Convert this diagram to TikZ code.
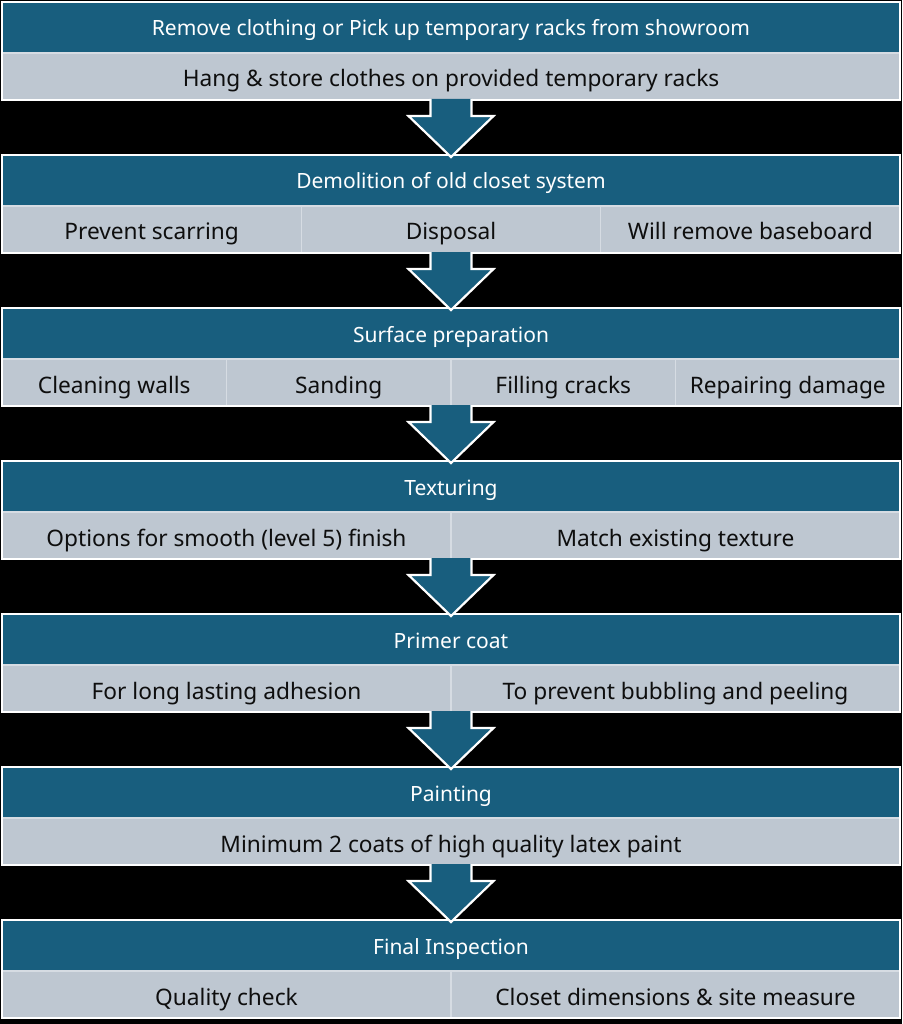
\documentclass[tikz,border=0pt]{standalone}
\usepackage{fontspec}
\setmainfont{Noto Sans}
\usetikzlibrary{calc}
\definecolor{tealhdr}{RGB}{24,94,126}
\definecolor{greycell}{RGB}{190,199,209}
\definecolor{cellline}{RGB}{214,220,227}
\definecolor{celltext}{RGB}{14,14,14}
\newcommand{\hdrfont}{\fontsize{21}{23}\selectfont}
\newcommand{\cellfont}{\fontsize{22.7}{25}\selectfont}
\tikzset{
  hdr/.style={rectangle, fill=tealhdr, draw=white, line width=1.5pt, minimum width=898pt, minimum height=51pt, anchor=north west, inner sep=0pt, outer sep=0pt, text=white, font=\hdrfont, text height=17pt, text depth=0pt},
  cell/.style={rectangle, fill=greycell, draw=cellline, line width=1.5pt, minimum height=47pt, anchor=north west, inner sep=0pt, outer sep=0pt, text=celltext, font=\cellfont, text height=21pt, text depth=0pt},
  frame/.style={draw=white, line width=1.5pt},
  flowarrow/.style={fill=tealhdr, draw=white, line width=2.2pt, line join=miter}
}
\begin{document}
\begin{tikzpicture}[x=1pt,y=-1pt]
\fill[black] (0,0) rectangle (902,1024);
\useasboundingbox (0,0) rectangle (902,1024);
% Block 1
\node[hdr] (h1) at (2,2) {Remove clothing or Pick up temporary racks from showroom};
\node[cell, minimum width=898pt] (c11) at (2,53) {Hang \& store clothes on provided temporary racks};
% Block 2
\node[hdr] (h2) at (2,155) {Demolition of old closet system};
\node[cell, minimum width=299.33pt] (c21) at (2,206) {Prevent scarring};
\node[cell, minimum width=299.33pt] (c22) at (301.33,206) {Disposal};
\node[cell, minimum width=299.33pt] (c23) at (600.67,206) {Will remove baseboard};
% Block 3
\node[hdr] (h3) at (2,308) {Surface preparation};
\node[cell, minimum width=224.5pt] (c31) at (2,359) {Cleaning walls};
\node[cell, minimum width=224.5pt] (c32) at (226.5,359) {Sanding};
\node[cell, minimum width=224.5pt] (c33) at (451,359) {Filling cracks};
\node[cell, minimum width=224.5pt] (c34) at (675.5,359) {Repairing damage};
% Block 4
\node[hdr] (h4) at (2,461) {Texturing};
\node[cell, minimum width=449pt] (c41) at (2,512) {Options for smooth (level 5) finish};
\node[cell, minimum width=449pt] (c42) at (451,512) {Match existing texture};
% Block 5
\node[hdr] (h5) at (2,614) {Primer coat};
\node[cell, minimum width=449pt] (c51) at (2,665) {For long lasting adhesion};
\node[cell, minimum width=449pt] (c52) at (451,665) {To prevent bubbling and peeling};
% Block 6
\node[hdr] (h6) at (2,767) {Painting};
\node[cell, minimum width=898pt] (c61) at (2,818) {Minimum 2 coats of high quality latex paint};
% Block 7
\node[hdr] (h7) at (2,920) {Final Inspection};
\node[cell, minimum width=449pt] (c71) at (2,971) {Quality check};
\node[cell, minimum width=449pt] (c72) at (451,971) {Closet dimensions \& site measure};
% outer frames
\foreach \a/\b in {h1/c11,h2/c21,h3/c31,h4/c41,h5/c51,h6/c61,h7/c71}{
  \draw[frame] (\a.north west) rectangle (\b.south west -| \a.south east);
}
% arrows
\foreach \a/\b/\t in {h1/c11/h2,h2/c21/h3,h3/c31/h4,h4/c41/h5,h5/c51/h6,h6/c61/h7}{
  \coordinate (base) at (\a.south |- \b.south);
  \path[flowarrow] ($(base)+(-20.5,-1)$) -- ($(base)+(-20.5,16)$) -- ($(base)+(-42.5,16)$)
     -- ($(\t.north)+(0,2)$) -- ($(base)+(42.5,16)$) -- ($(base)+(20.5,16)$) -- ($(base)+(20.5,-1)$);
  \fill[tealhdr] ($(base)+(-19.4,-1)$) rectangle ($(base)+(19.4,17)$);
}
\end{tikzpicture}
\end{document}
